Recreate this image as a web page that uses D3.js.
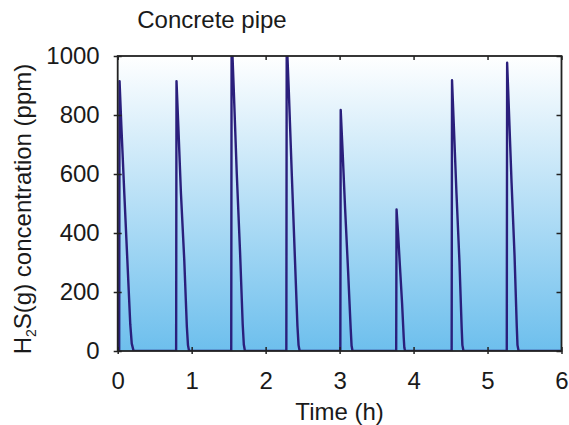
<!DOCTYPE html>
<html>
<head>
<meta charset="utf-8">
<script src="https://cdn.jsdelivr.net/npm/d3@7"></script>
<style>
  body { margin: 0; background: #fff; }
  text { font-family: "Liberation Sans", Arial, sans-serif; fill: #1a1a1a; }
</style>
</head>
<body>
<div id="chart"></div>
<script>
// H2S pulses, time in hours, concentration in ppm
const timeH = [
  0, 0.02, 0.025, 0.05, 0.09, 0.13, 0.17, 0.19, 0.215,
  0.79, 0.795, 0.82, 0.855, 0.9, 0.935, 0.95, 0.965,
  1.535, 1.54, 1.57, 1.61, 1.655, 1.69, 1.705, 1.72,
  2.28, 2.285, 2.315, 2.355, 2.395, 2.43, 2.445, 2.46,
  3.01, 3.015, 3.04, 3.075, 3.115, 3.15, 3.162, 3.175,
  3.765, 3.77, 3.79, 3.815, 3.845, 3.867, 3.875, 3.885,
  4.515, 4.52, 4.545, 4.58, 4.62, 4.65, 4.66, 4.675,
  5.26, 5.265, 5.29, 5.325, 5.365, 5.395, 5.405, 5.42,
  6
]
const h2sPpm = [
  0, 0, 915, 760, 530, 310, 90, 25, 0,
  0, 915, 760, 535, 308, 82, 20, 0,
  0, 1080, 880, 600, 330, 90, 22, 0,
  0, 1060, 870, 590, 320, 85, 20, 0,
  0, 817, 680, 480, 270, 75, 18, 0,
  0, 480, 400, 290, 160, 45, 12, 0,
  0, 918, 760, 535, 305, 80, 20, 0,
  0, 977, 810, 570, 325, 85, 20, 0,
  0
]
const xTicks = [0, 1, 2, 3, 4, 5, 6]
const yTicks = [0, 200, 400, 600, 800, 1000]

const chartTitle = 'Concrete pipe'
const xLabel = 'Time (h)'

const width = 569
const height = 425
const margin = { top: 56, right: 7.5, bottom: 74, left: 117.7 }
const plotW = width - margin.left - margin.right
const plotH = height - margin.top - margin.bottom

const data = timeH.map((t, i) => [t, h2sPpm[i]])

const svg = d3.select('#chart')
  .append('svg')
    .attr('width', width)
    .attr('height', height)

const defs = svg.append('defs')
const grad = defs.append('linearGradient')
  .attr('id', 'bg')
  .attr('x1', 0).attr('y1', 0)
  .attr('x2', 0).attr('y2', 1)
grad.append('stop').attr('offset', '0%').attr('stop-color', '#ffffff')
grad.append('stop').attr('offset', '100%').attr('stop-color', '#6dbfed')

defs.append('clipPath')
  .attr('id', 'clip')
  .append('rect')
    .attr('width', plotW)
    .attr('height', plotH)

const g = svg.append('g')
  .attr('transform', `translate(${margin.left},${margin.top})`)

const x = d3.scaleLinear().domain([0, 6]).range([0, plotW])
const y = d3.scaleLinear().domain([0, 1000]).range([plotH, 0])

g.append('rect')
  .attr('width', plotW)
  .attr('height', plotH)
  .attr('fill', 'url(#bg)')

g.append('path')
  .datum(data)
  .attr('clip-path', 'url(#clip)')
  .attr('fill', 'none')
  .attr('stroke', '#2a1f7c')
  .attr('stroke-width', 2.4)
  .attr('stroke-linejoin', 'round')
  .attr('d', d3.line()
    .x(d => x(d[0]))
    .y(d => y(d[1]))
  )

const styleAxis = sel => {
  sel.select('.domain').remove()
  sel.selectAll('line').attr('stroke', '#222').attr('stroke-width', 1.5)
  sel.selectAll('text')
    .attr('font-size', 24)
    .attr('fill', '#1a1a1a')
    .attr('font-family', '"Liberation Sans", Arial, sans-serif')
}

// labelled axes with outward ticks
g.append('g')
  .attr('transform', `translate(0,${plotH})`)
  .call(d3.axisBottom(x).tickValues(xTicks).tickSize(3).tickPadding(18).tickFormat(d3.format('d')))
  .call(styleAxis)

g.append('g')
  .call(d3.axisLeft(y).tickValues(yTicks).tickSize(4).tickPadding(14).tickFormat(d3.format('d')))
  .call(styleAxis)

// inward ticks on all four sides
g.append('g')
  .attr('transform', `translate(0,${plotH})`)
  .call(d3.axisBottom(x).tickValues(xTicks).tickSize(-4).tickFormat(''))
  .call(styleAxis)
g.append('g')
  .call(d3.axisTop(x).tickValues(xTicks).tickSize(-4).tickFormat(''))
  .call(styleAxis)
g.append('g')
  .call(d3.axisLeft(y).tickValues(yTicks).tickSize(-4).tickFormat(''))
  .call(styleAxis)
g.append('g')
  .attr('transform', `translate(${plotW},0)`)
  .call(d3.axisRight(y).tickValues(yTicks).tickSize(-5).tickFormat(''))
  .call(styleAxis)

g.append('rect')
  .attr('width', plotW)
  .attr('height', plotH)
  .attr('fill', 'none')
  .attr('stroke', '#222')
  .attr('stroke-width', 1.8)

svg.append('text')
  .attr('x', 212)
  .attr('y', 28)
  .attr('text-anchor', 'middle')
  .attr('font-size', 24)
  .text(chartTitle)

svg.append('text')
  .attr('x', margin.left + plotW / 2)
  .attr('y', 420)
  .attr('text-anchor', 'middle')
  .attr('font-size', 24)
  .text(xLabel)

const yLab = svg.append('text')
  .attr('transform', `translate(31,209) rotate(-90)`)
  .attr('text-anchor', 'middle')
  .attr('font-size', 24)
yLab.append('tspan').text('H')
yLab.append('tspan').attr('font-size', 14).attr('dy', 5).text('2')
yLab.append('tspan').attr('dy', -5).text('S(g) concentration (ppm)')
</script>
</body>
</html>
